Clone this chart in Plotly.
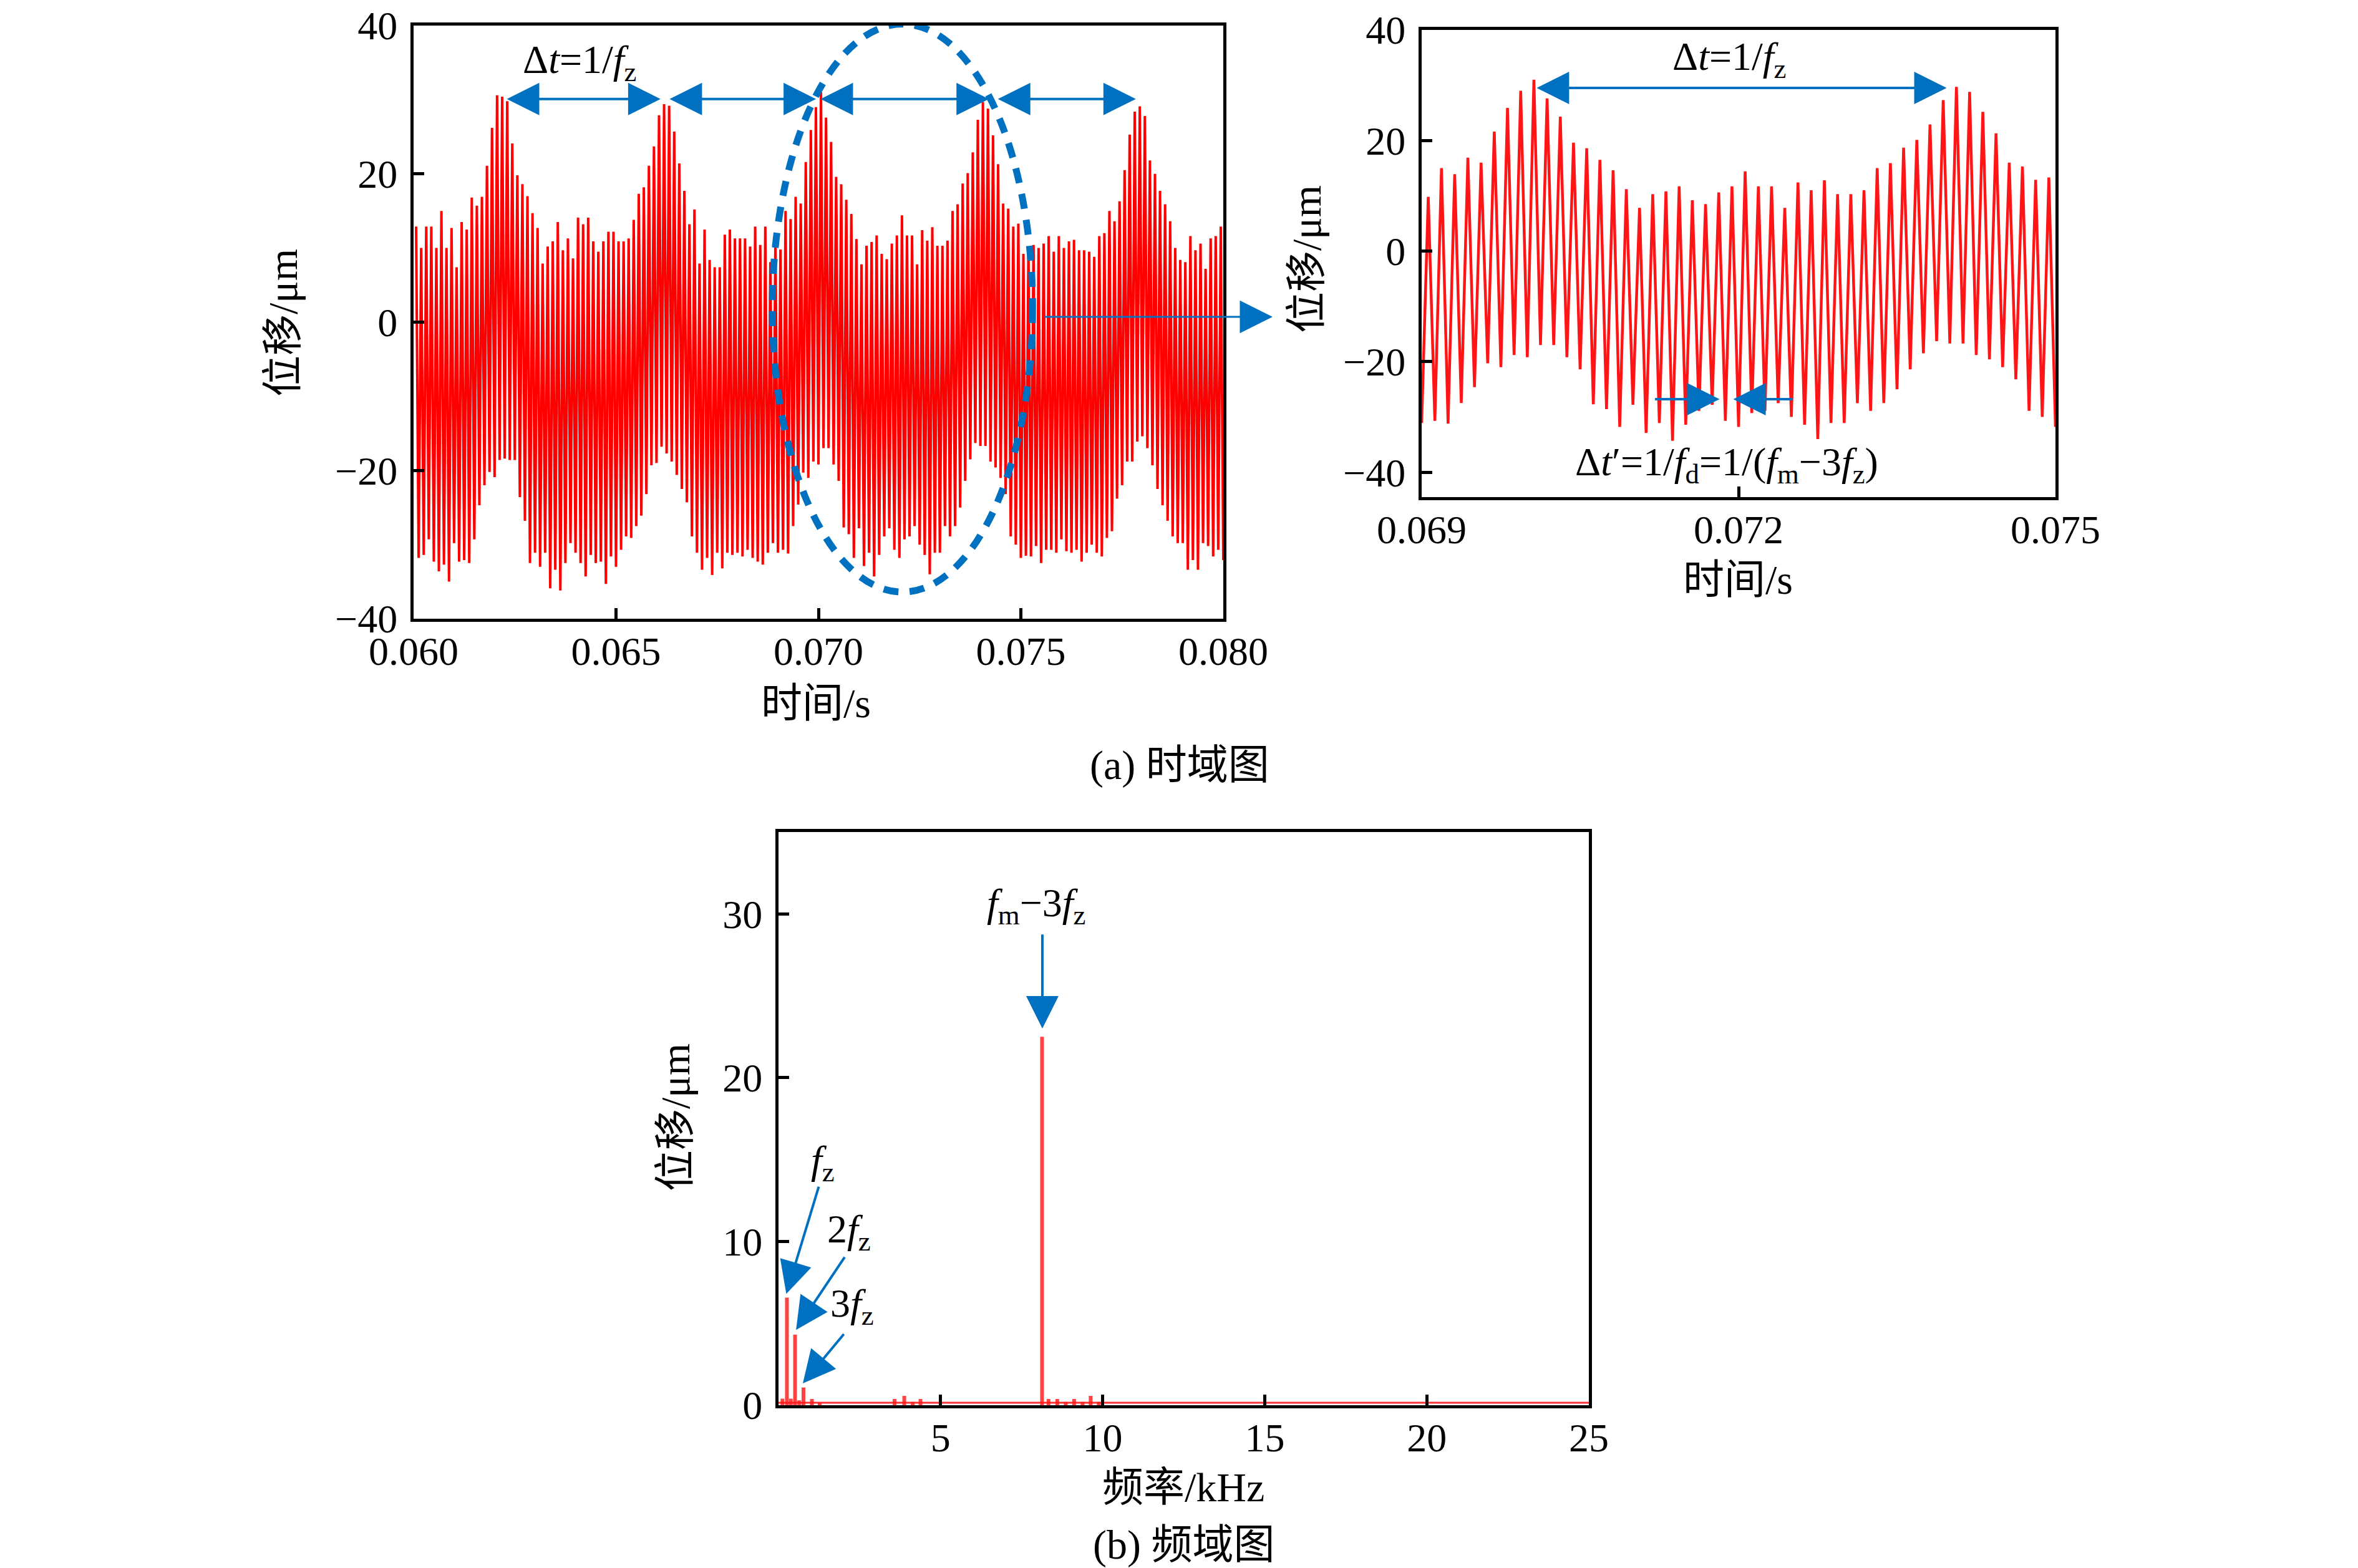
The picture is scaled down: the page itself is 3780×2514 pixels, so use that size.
import numpy as np
import plotly.graph_objects as go

# ---- time record: one crest + one trough per carrier cycle ----
T_START = 0.060      # s
CYCLE_S = 0.000125   # s, carrier period (f_m - 3f_z ~ 8 kHz)

# 0.060 - 0.069 s
PEAKS_A = [12.9, 10.0, 12.9, 12.9, 10.0, 15.0, 10.0, 12.7, 7.4, 13.5,
           12.5, 16.8, 15.7, 16.9, 21.1, 26.2, 30.6, 30.4, 29.8, 24.1,
           19.8, 18.6, 17.0, 14.7, 12.7, 7.9, 10.2, 10.9, 13.5, 9.7,
           11.3, 8.6, 14.1, 13.2, 14.1, 10.9, 9.5, 10.9, 12.2, 12.2,
           10.9, 10.9, 11.3, 13.8, 17.3, 18.2, 21.1, 23.7, 27.9, 29.4,
           29.2, 25.7, 21.4, 17.7, 13.2, 15.2, 7.9, 12.5, 8.4, 7.4,
           7.4, 11.8, 12.5, 11.3, 11.3, 11.3, 10.2, 12.9, 10.4, 12.9,
           8.1, 10.9]
TROUGHS_A = [-31.8, -31.4, -29.3, -32.3, -33.6, -32.7, -35.0, -29.8, -32.3, -32.1,
             -32.5, -29.3, -24.7, -22.0, -20.2, -20.9, -18.6, -18.4, -18.6, -18.6,
             -23.6, -26.8, -32.5, -31.1, -33.0, -31.1, -35.9, -33.4, -36.2, -32.5,
             -29.8, -31.1, -32.5, -34.3, -31.4, -32.5, -32.3, -35.3, -31.6, -33.0,
             -30.7, -28.9, -29.1, -27.5, -26.1, -23.2, -19.3, -19.0, -16.8, -17.7,
             -18.8, -20.6, -22.5, -24.3, -28.9, -31.1, -33.4, -31.8, -34.1, -31.1,
             -33.2, -31.1, -31.4, -31.1, -31.6, -30.7, -31.8, -32.3, -32.7, -31.1,
             -29.8, -31.1]

# 0.069 - 0.075 s (the zoomed window)
PEAKS_B = [9.8, 15.0, 13.9, 16.9, 16.0, 21.6, 25.9, 29.0, 31.0, 27.6,
           24.3, 19.6, 18.6, 16.5, 14.6, 11.2, 7.8, 10.3, 10.8, 11.7,
           9.2, 8.5, 10.6, 11.7, 14.4, 11.7, 11.7, 7.8, 12.4, 11.0,
           12.8, 10.3, 10.3, 11.0, 15.0, 15.9, 18.7, 20.1, 22.9, 27.3,
           29.7, 28.8, 25.2, 21.3, 16.0, 15.3, 12.9, 13.3, 9.2]
TROUGHS_B = [-30.7, -31.2, -27.5, -24.6, -20.3, -21.0, -18.8, -19.2, -17.0, -17.0,
             -19.2, -21.4, -27.7, -28.6, -31.8, -27.8, -32.9, -31.1, -34.3, -31.4,
             -28.9, -27.8, -30.7, -31.8, -29.3, -28.9, -27.5, -30.0, -31.4, -34.0,
             -31.1, -31.1, -27.5, -28.9, -27.5, -25.0, -21.4, -18.5, -16.3, -16.7,
             -16.7, -18.8, -19.6, -21.0, -23.2, -28.9, -30.0, -31.8, -31.5]

# 0.075 - 0.080 s
PEAKS_C = [10.0, 10.4, 10.0, 10.6, 11.6, 9.5, 11.6, 10.0, 10.9, 11.1,
           9.7, 9.7, 9.5, 8.8, 11.6, 12.0, 15.0, 13.6, 16.3, 20.5,
           25.3, 28.4, 29.1, 27.8, 21.8, 20.0, 17.7, 15.9, 13.6, 10.0,
           8.4, 8.1, 11.6, 9.7, 10.6, 7.2, 11.3, 11.6, 12.9]
TROUGHS_C = [-31.6, -30.2, -32.5, -30.7, -30.7, -31.1, -29.3, -30.9, -31.1, -30.7,
             -32.3, -31.1, -30.0, -31.1, -31.6, -29.1, -28.2, -23.8, -22.0, -18.8,
             -18.8, -16.1, -15.4, -17.0, -19.3, -22.5, -24.7, -26.8, -28.9, -29.8,
             -29.8, -33.4, -32.1, -33.4, -29.8, -30.2, -31.6, -30.7, -32.1]

# ---- amplitude spectrum ----
FREQ_KHZ = [0.12, 0.26, 0.38, 0.51, 0.64, 0.77, 1.03, 1.27,
            3.58, 3.88, 4.14, 4.38,
            8.13, 8.33, 8.60, 8.86, 9.12, 9.38, 9.63, 9.88]
AMP_UM = [0.4, 6.57, 0.4, 4.31, 0.3, 1.08, 0.38, 0.15,
          0.38, 0.57, 0.2, 0.38,
          22.5, 0.38, 0.38, 0.2, 0.38, 0.2, 0.57, 0.2]
FLOOR_KHZ = [0.0, 25.0]
FLOOR_UM = [0.15, 0.15]

FONT = "Liberation Serif, Noto Sans CJK SC"
BLUE = "#0070C0"
W, H = 3780, 2514

peaks = np.array(PEAKS_A + PEAKS_B + PEAKS_C)
troughs = np.array(TROUGHS_A + TROUGHS_B + TROUGHS_C)
t_peak = T_START + (np.arange(len(peaks)) + 0.5) * CYCLE_S
t_trough = t_peak + 0.5 * CYCLE_S
t = np.column_stack([t_peak, t_trough]).ravel()
disp = np.column_stack([peaks, troughs]).ravel()

stem_x, stem_y = [], []
for f, a in zip(FREQ_KHZ, AMP_UM):
    stem_x += [f, f, None]
    stem_y += [0, a, None]

fig = go.Figure()
fig.add_trace(go.Scatter(x=t, y=disp, mode="lines", xaxis="x", yaxis="y",
                         line=dict(color="#ff0000", width=4.0)))
fig.add_trace(go.Scatter(x=t, y=disp, mode="lines", xaxis="x2", yaxis="y2",
                         line=dict(color="#ff1515", width=4.5)))
fig.add_trace(go.Scatter(x=FLOOR_KHZ, y=FLOOR_UM, mode="lines", xaxis="x3", yaxis="y3",
                         line=dict(color="rgba(255,0,0,0.8)", width=3)))
fig.add_trace(go.Scatter(x=stem_x, y=stem_y, mode="lines", xaxis="x3", yaxis="y3",
                         line=dict(color="rgba(255,20,20,0.8)", width=6)))


def axis(domain, rng, tickvals, anchor, fmt="", standoff=8):
    return dict(domain=domain, range=rng, tickvals=tickvals, tickformat=fmt,
                anchor=anchor, showline=True, linecolor="black", linewidth=5,
                mirror=True, ticks="inside", ticklen=17, tickwidth=5,
                tickcolor="black", showgrid=False, zeroline=False,
                automargin=False, ticklabelstandoff=standoff,
                ticklabeloverflow="allow",
                tickfont=dict(family=FONT, size=64, color="black"))


fig.update_layout(
    width=W, height=H, showlegend=False,
    margin=dict(l=0, r=0, t=0, b=0, autoexpand=False),
    paper_bgcolor="white", plot_bgcolor="white",
    font=dict(family=FONT, size=64, color="black"),
    xaxis=axis([655 / W, 1953 / W], [0.060, 0.080],
               [0.060, 0.065, 0.070, 0.075, 0.080], "y", ".3f", -8),
    yaxis=axis([1 - 984 / H, 1 - 33 / H], [-40, 40], [-40, -20, 0, 20, 40], "x"),
    xaxis2=axis([2271 / W, 3287 / W], [0.069, 0.075],
                [0.069, 0.072, 0.075], "y2", ".3f", -8),
    yaxis2=axis([1 - 789 / H, 1 - 40 / H], [-44.5, 40], [-40, -20, 0, 20, 40], "x2"),
    xaxis3=axis([1240 / W, 2539 / W], [0, 25], [5, 10, 15, 20, 25], "y3", "", -8),
    yaxis3=axis([1 - 2245 / H, 1 - 1326 / H], [0, 35], [0, 10, 20, 30], "x3"),
)

# dashed ellipse marking the zoomed window
fig.add_shape(type="circle", xref="x", yref="y", x0=0.06886, x1=0.07529,
              y0=-36.4, y1=40.2, layer="above",
              line=dict(color=BLUE, width=11, dash="24px,18px"))

ann = []


def label(text, x, y, xref="paper", yref="paper", size=64, angle=0):
    ann.append(dict(text=text, x=x, y=y, xref=xref, yref=yref, showarrow=False,
                    xanchor="center", yanchor="middle", textangle=angle,
                    font=dict(family=FONT, size=size, color="black")))


def arrow(x0, y0, x1, y1, xref, yref, both=False, width=4, size=2.6):
    a = dict(text="", x=x1, y=y1, ax=x0, ay=y0, xref=xref, yref=yref,
             axref=xref, ayref=yref, showarrow=True, arrowhead=2,
             arrowsize=size, arrowwidth=width, arrowcolor=BLUE)
    if both:
        a.update(arrowside="end+start", startarrowhead=2, startarrowsize=size)
    ann.append(a)


DT = "Δ<i>t</i>=1/<i>f</i><sub>z</sub>"

# (a) time domain
label(DT, 0.0641, 35.0, "x", "y")
for a0, a1 in [(0.06228, 0.06610), (0.06630, 0.06994),
               (0.07003, 0.07421), (0.07441, 0.07784)]:
    arrow(a0, 30.1, a1, 30.1, "x", "y", both=True)
# pointer from the ellipse to the zoomed window (pixel offset)
ann.append(dict(text="", x=2032 / W, y=1 - 500 / H, xref="paper", yref="paper",
                axref="pixel", ayref="pixel", ax=-(2032 - 1665), ay=0,
                showarrow=True, arrowhead=2, arrowsize=3.5, arrowwidth=3,
                arrowcolor=BLUE))
label("位移/μm", 445 / W, 1 - 510 / H, size=66, angle=-90)
label("时间/s", 1300 / W, 1 - 1120 / H, size=66)
label("(a) 时域图", 1883 / W, 1 - 1219 / H, size=66)

# zoomed window
label(DT, 0.07191, 34.7, "x2", "y2")
arrow(0.07008, 29.5, 0.07397, 29.5, "x2", "y2", both=True)
arrow(0.07120, -26.8, 0.07182, -26.8, "x2", "y2")
arrow(0.07252, -26.8, 0.07195, -26.8, "x2", "y2")
label("Δ<i>t</i>′=1/<i>f</i><sub>d</sub>=1/(<i>f</i><sub>m</sub>−3<i>f</i><sub>z</sub>)",
      0.07189, -38.6, "x2", "y2")
label("位移/μm", 2086 / W, 1 - 408 / H, size=66, angle=-90)
label("时间/s", 2778 / W, 1 - 921 / H, size=66)

# (b) frequency domain
label("<i>f</i><sub>m</sub>−3<i>f</i><sub>z</sub>", 7.95, 30.5, "x3", "y3")
arrow(8.14, 28.8, 8.14, 23.0, "x3", "y3")
label("<i>f</i><sub>z</sub>", 1.36, 14.8, "x3", "y3")
arrow(1.25, 13.4, 0.24, 6.8, "x3", "y3")
label("2<i>f</i><sub>z</sub>", 2.17, 10.6, "x3", "y3")
arrow(2.06, 9.1, 0.54, 4.6, "x3", "y3")
label("3<i>f</i><sub>z</sub>", 2.27, 6.05, "x3", "y3")
arrow(2.04, 4.4, 0.75, 1.33, "x3", "y3")
label("位移/μm", 1074 / W, 1 - 1784 / H, size=66, angle=-90)
label("频率/kHz", 1889 / W, 1 - 2376 / H, size=66)
label("(b) 频域图", 1889 / W, 1 - 2469 / H, size=66)

fig.update_layout(annotations=ann)
fig.write_html("out.html")
